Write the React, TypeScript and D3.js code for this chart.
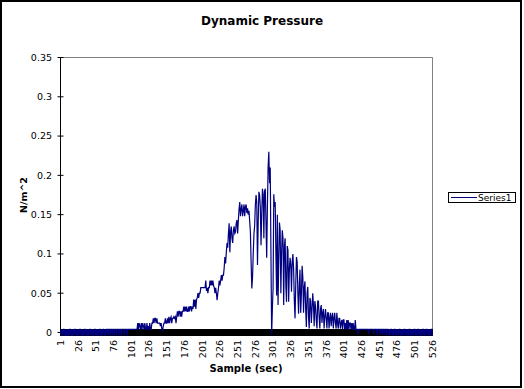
import * as d3 from "d3";

// Dynamic pressure per sample (N/m^2) in pieces
const quietStart = [
  0.004, -0.004, 0.004, -0.004, 0.004, 0.004, -0.004, 0.004, -0.004, 0.004,
  -0.004, 0.004, -0.004, 0.004, 0.004, -0.004, 0.004, -0.004, 0.004, -0.004,
  0.004, 0.004, -0.004, 0.004, -0.004, 0.004, -0.004, 0.004, 0.004, -0.004,
  0.004, -0.004, 0.004, -0.004, 0.004, 0.004, -0.004, 0.004, -0.004, 0.004,
  -0.004, 0.004, 0.004, -0.004, 0.004, -0.004, 0.004, -0.004, 0.004, 0.004,
  -0.004, 0.004, -0.004, 0.004, -0.004, 0.004, 0.004, -0.004, 0.004, -0.004,
  0.004, 0.004, -0.004, 0.004, -0.004, 0.004, 0.004, -0.004, 0.004, 0.004,
  -0.004, 0.004, 0.004, -0.004, 0.004, 0.004, -0.004, 0.004, 0.004, -0.004,
  0.004, 0.004, 0.004, -0.004, 0.004, 0.004, -0.004, 0.004, 0.004, 0.004,
  -0.004, 0.004, 0.004, 0.004, -0.004, 0.004, 0.004, 0.004, 0.004, 0.004,
];
const onset = [
  0.004, 0.004, 0.004, 0.004, 0.004, 0.004, 0.004, 0.004, 0.004, 0.012,
  0.004, 0.012, 0.008, 0.004, 0.012, 0.004, 0.012, 0.008, 0.004, 0.012,
  0.004, 0.004, 0.012, 0.004, 0.008, 0.004, 0.012, 0.004, 0.004, 0.012,
];
const earlyRise = [
  0.012, 0.018, 0.012, 0.018, 0.018, 0.012, 0.018, 0.012, 0.012, 0.012,
  0.012, 0.008, 0.012, 0.004, 0.002, 0.008, 0.012, 0.012, 0.018, 0.012,
  0.012, 0.018, 0.012, 0.02, 0.012, 0.018, 0.02, 0.012, 0.018, 0.018,
  0.02, 0.018, 0.02, 0.012, 0.02, 0.027, 0.02, 0.027, 0.027, 0.02,
];
const steadyRise = [
  0.027, 0.02, 0.027, 0.027, 0.033, 0.027, 0.033, 0.027, 0.033, 0.027,
  0.027, 0.033, 0.027, 0.033, 0.033, 0.027, 0.033, 0.03, 0.042, 0.033,
  0.042, 0.03, 0.042, 0.044, 0.05, 0.044, 0.05, 0.05, 0.057, 0.057,
  0.057, 0.057, 0.057, 0.057, 0.057, 0.066, 0.053, 0.057, 0.05, 0.057,
  0.057, 0.066, 0.06, 0.066, 0.06, 0.066, 0.06, 0.057, 0.05, 0.057,
  0.05, 0.041, 0.05, 0.057, 0.066, 0.06, 0.066, 0.073, 0.066, 0.073,
];
const peakBand = [
  0.073, 0.082, 0.096, 0.088, 0.102, 0.114, 0.108, 0.126, 0.139, 0.102,
  0.128, 0.135, 0.12, 0.114, 0.13, 0.135, 0.126, 0.128, 0.139, 0.143,
  0.126, 0.143, 0.157, 0.166, 0.148, 0.157, 0.163, 0.148, 0.155, 0.163,
  0.148, 0.16, 0.163, 0.152, 0.158, 0.15, 0.155, 0.142, 0.128, 0.09, 0.056,
  0.07, 0.1, 0.125, 0.136, 0.162, 0.175, 0.165, 0.086, 0.14, 0.179,
  0.175, 0.16, 0.111, 0.15, 0.183, 0.176, 0.12, 0.18, 0.183, 0.14,
  0.095, 0.16, 0.21, 0.23, 0.19, 0.21, 0.1, -0.003, 0.03,
];
const decay = [
  0.056, 0.176, 0.16, 0.166, 0.1, 0.047, 0.15, 0.035, 0.09, 0.14,
  0.13, 0.05, 0.1, 0.13, 0.12, 0.035, 0.11, 0.12, 0.06, 0.039,
  0.11, 0.105, 0.039, 0.08, 0.095, 0.086, 0.052, 0.09, 0.1, 0.08,
  0.04, 0.018, 0.06, 0.096, 0.09, 0.05, 0.024, 0.06, 0.08, 0.025,
  0.05, 0.085, 0.07, 0.025, 0.058, 0.065, 0.03, 0.007, 0.05, 0.058,
  0.02, 0.005, 0.044, 0.04, 0.012, 0.03, 0.05, 0.035, 0.008, 0.04,
  0.033, 0.015, 0.005, 0.04, 0.04, 0.02, 0.005, 0.03, 0.035, 0.012,
  0.025, 0.03, 0.005, 0.02, 0.03, 0.018, 0.005, 0.025, 0.025, 0.005,
  0.018, 0.025, 0.008, 0.02, 0.025, 0.005, 0.018, 0.025, 0.012, 0.005,
  0.025, 0.012, 0.005, 0.018, 0.018, 0.005, 0.012, 0.016, 0.004, 0.016,
  0.016, 0.004, 0.012, 0.004, 0.016, 0.004, 0.016, 0.004, 0.012, 0.012,
  0.004, 0.012, 0.004, 0.012, 0.004, 0.004, 0.016, 0.004, 0.004, 0.004,
];
const quietEnd = [
  -0.002, 0.004, 0.004, 0.004, 0.004, 0.004, 0.004, 0.004, 0.004, 0.004,
  0.004, 0.004, 0.004, 0.004, 0.004, -0.002, 0.004, 0.004, 0.004, 0.004,
  0.004, 0.004, -0.002, 0.004, 0.004, 0.004, 0.004, -0.003, 0.004, 0.004,
  0.004, -0.003, 0.004, 0.004, -0.003, 0.004, 0.004, -0.003, 0.004, 0.004,
  -0.004, 0.004, 0.004, -0.003, 0.004, -0.004, 0.004, 0.004, -0.003, 0.004,
  -0.004, 0.004, 0.004, -0.004, 0.004, -0.003, 0.004, -0.004, 0.004, 0.004,
  -0.004, 0.004, -0.004, 0.004, -0.003, 0.004, 0.004, -0.004, 0.004, -0.004,
  0.004, -0.004, 0.004, 0.004, -0.004, 0.004, -0.003, 0.004, -0.004, 0.004,
  0.004, -0.004, 0.004, -0.004, 0.004, 0.004, -0.004, 0.004, -0.004, 0.004,
  -0.004, 0.004, 0.004, -0.004, 0.004, -0.004, 0.004, 0.004, -0.004, 0.004,
  -0.004, 0.004, -0.004, 0.004, 0.004, -0.004,
];

const pressure = [
  ...quietStart,
  ...onset,
  ...earlyRise,
  ...steadyRise,
  ...peakBand,
  ...decay,
  ...quietEnd,
];

// category axis: one category per sample
const samples = d3.range(1, pressure.length + 1);
const xTickLabels = [
  1, 26, 51, 76, 101, 126, 151, 176, 201, 226, 251, 276, 301, 326, 351, 376,
  401, 426, 451, 476, 501, 526,
];
const yTicks = [0, 0.05, 0.1, 0.15, 0.2, 0.25, 0.3, 0.35];

const W = 524;
const H = 389;
const LEFT = 60.5;
const RIGHT = 432.5;
const TOP = 57.5;
const BOTTOM = 332.5;
const NAVY = "#000080";
const FONT = "DejaVu Sans, Verdana, sans-serif";

export default function App() {
  const x = d3.scalePoint<number>().domain(samples).range([LEFT, RIGHT]);
  const y = d3.scaleLinear().domain([0, 0.35]).range([BOTTOM, TOP]);

  const line = d3
    .line<number>()
    .x((_d, i) => x(samples[i]) ?? 0)
    .y((d) => y(d));

  return (
    <svg
      width={W}
      height={H}
      viewBox={`0 0 ${W} ${H}`}
      style={{ position: "absolute", left: 0, top: 0, background: "#fff" }}
      fontFamily={FONT}
    >
      {/* chart frame */}
      <rect x={1} y={1} width={520} height={386} fill="#fff" stroke="#000" strokeWidth={2} />

      <text x={262} y={25} textAnchor="middle" fontSize={12} fontWeight="bold">
        Dynamic Pressure
      </text>

      {/* plot-area border (grey top / right) */}
      <line x1={LEFT} x2={RIGHT} y1={TOP} y2={TOP} stroke="#808080" />
      <line x1={RIGHT} x2={RIGHT} y1={TOP} y2={BOTTOM} stroke="#808080" />

      {/* y axis */}
      <line x1={LEFT} x2={LEFT} y1={TOP} y2={BOTTOM} stroke="#000" />
      {yTicks.map((t) => (
        <g key={t}>
          <line x1={57.5} x2={63.5} y1={y(t)} y2={y(t)} stroke="#000" />
          <text x={52} y={y(t)} dy="0.35em" textAnchor="end" fontSize={9.5}>
            {t}
          </text>
        </g>
      ))}
      <text
        transform={`translate(27,195) rotate(-90)`}
        textAnchor="middle"
        fontSize={9.5}
        fontWeight="bold"
      >
        N/m^2
      </text>

      {/* x axis: one cross tick per sample, packed so tight they read as a bar */}
      <g shapeRendering="crispEdges">
        {samples.map((s) => (
          <line key={s} x1={x(s)} x2={x(s)} y1={329} y2={336} stroke="#000" />
        ))}
      </g>
      <line x1={LEFT} x2={RIGHT} y1={BOTTOM} y2={BOTTOM} stroke="#000" />
      {xTickLabels.map((s) => (
        <text
          key={s}
          transform={`translate(${x(s)},340) rotate(-90)`}
          dy="0.35em"
          textAnchor="end"
          fontSize={9.5}
        >
          {s}
        </text>
      ))}
      <text x={246} y={372} textAnchor="middle" fontSize={10} fontWeight="bold">
        Sample (sec)
      </text>

      {/* series */}
      <path
        d={line(pressure) ?? ""}
        fill="none"
        stroke={NAVY}
        strokeWidth={1.2}
      />

      {/* legend */}
      <rect x={448.5} y={192.5} width={67} height={10} fill="#fff" stroke="#000" />
      <line x1={451} x2={477} y1={197.5} y2={197.5} stroke={NAVY} />
      <text x={478} y={197.5} dy="0.35em" fontSize={9}>
        Series1
      </text>
    </svg>
  );
}
